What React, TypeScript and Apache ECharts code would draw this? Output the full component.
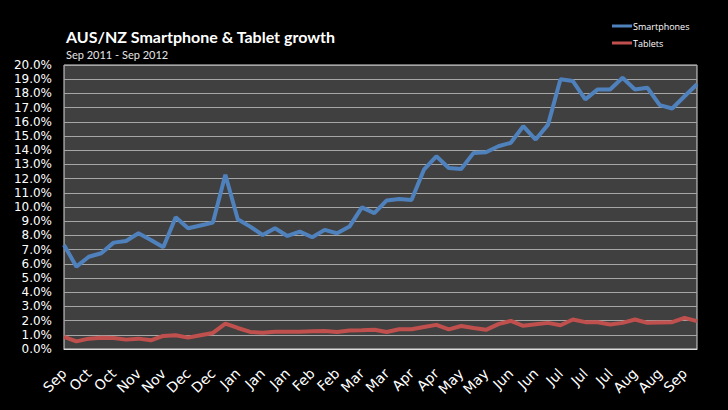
import React, { useEffect, useRef } from "react";
import * as echarts from "echarts";

const weekLabels: string[] = [
  "Sep", "Oct", "Oct", "Oct", "Oct", "Oct", "Nov", "Nov", "Nov", "Nov",
  "Dec", "Dec", "Dec", "Dec", "Jan", "Jan", "Jan", "Jan", "Jan", "Feb",
  "Feb", "Feb", "Feb", "Mar", "Mar", "Mar", "Mar", "Apr", "Apr", "Apr",
  "Apr", "Apr", "May", "May", "May", "May", "Jun", "Jun", "Jun", "Jun",
  "Jul", "Jul", "Jul", "Jul", "Jul", "Aug", "Aug", "Aug", "Aug", "Sep",
  "Sep", "Sep",
];

const smartphones: number[] = [
  7.33, 5.8, 6.5, 6.74, 7.49, 7.61, 8.15, 7.68, 7.16, 9.28,
  8.5, 8.7, 8.9, 12.27, 9.14, 8.62, 8.03, 8.5, 7.96, 8.27,
  7.87, 8.39, 8.15, 8.62, 9.97, 9.57, 10.46, 10.56, 10.5, 12.63,
  13.57, 12.75, 12.68, 13.81, 13.85, 14.28, 14.52, 15.69, 14.75, 15.8,
  18.99, 18.87, 17.58, 18.28, 18.28, 19.1, 18.28, 18.4, 17.17, 16.94,
  17.8, 18.64,
];

const tablets: number[] = [
  0.85, 0.54, 0.73, 0.8, 0.78, 0.66, 0.73, 0.61, 0.92, 0.97,
  0.8, 0.97, 1.13, 1.79, 1.48, 1.2, 1.15, 1.22, 1.22, 1.22,
  1.25, 1.27, 1.2, 1.3, 1.32, 1.35, 1.2, 1.39, 1.39, 1.55,
  1.7, 1.38, 1.62, 1.48, 1.35, 1.75, 1.98, 1.63, 1.75, 1.84,
  1.67, 2.08, 1.89, 1.89, 1.72, 1.84, 2.08, 1.84, 1.87, 1.89,
  2.19, 1.96,
];

const seriesNames: string[] = ["Smartphones", "Tablets"];
const titleText = "AUS/NZ Smartphone & Tablet growth";
const subtitleText = "Sep 2011 - Sep 2012";

export default function App() {
  const ref = useRef<HTMLDivElement>(null);

  useEffect(() => {
    document.body.style.margin = "0";
    document.body.style.background = "#000";
    if (!ref.current) return;
    const chart = echarts.init(ref.current, undefined, { renderer: "svg" });
    chart.setOption({
      animation: false,
      backgroundColor: "#000000",
      graphic: [
        {
          type: "text",
          left: 66,
          top: 28,
          style: {
            text: titleText,
            fill: "#ffffff",
            font: "bold 16px Lato",
          },
        },
        {
          type: "text",
          left: 66,
          top: 49,
          style: {
            text: subtitleText,
            fill: "#e6e6e6",
            font: "11px Lato",
          },
        },
      ],
      legend: {
        orient: "vertical",
        left: 607,
        top: 15,
        icon: "rect",
        itemWidth: 20,
        itemHeight: 3,
        itemGap: 5,
        data: seriesNames,
        textStyle: {
          color: "#ffffff",
          fontSize: 9,
          fontFamily: "Open Sans",
          lineHeight: 12,
          padding: [0, 0, 0, -4],
        },
      },
      grid: {
        left: 64,
        top: 65,
        right: 31,
        bottom: 61,
        show: true,
        backgroundColor: "#404040",
        borderColor: "#d9d9d9",
        borderWidth: 1,
      },
      xAxis: {
        type: "category",
        data: weekLabels,
        boundaryGap: false,
        axisLine: { show: true, lineStyle: { color: "#d9d9d9", width: 1 } },
        axisTick: { show: false },
        splitLine: { show: false },
        axisLabel: {
          interval: 1,
          rotate: 45,
          margin: 22,
          color: "#ffffff",
          fontSize: 14,
          fontFamily: "DejaVu Sans",
        },
      },
      yAxis: {
        type: "value",
        min: 0,
        max: 20,
        interval: 1,
        axisLine: { show: false },
        axisTick: { show: false },
        splitLine: { show: true, lineStyle: { color: "#a6a6a6", width: 1 } },
        axisLabel: {
          margin: 12,
          color: "#ffffff",
          fontSize: 12,
          fontFamily: "DejaVu Sans",
          formatter: (v: number) => `${v.toFixed(1)}%`,
        },
      },
      series: [
        {
          name: seriesNames[0],
          type: "line",
          data: smartphones,
          symbol: "none",
          lineStyle: { color: "#4f81bd", width: 4 },
          itemStyle: { color: "#4f81bd" },
        },
        {
          name: seriesNames[1],
          type: "line",
          data: tablets,
          symbol: "none",
          lineStyle: { color: "#c0504d", width: 4 },
          itemStyle: { color: "#c0504d" },
        },
      ],
    });
    return () => chart.dispose();
  }, []);

  return (
    <div
      ref={ref}
      style={{ position: "absolute", left: 0, top: 0, width: 728, height: 410, background: "#000" }}
    />
  );
}
